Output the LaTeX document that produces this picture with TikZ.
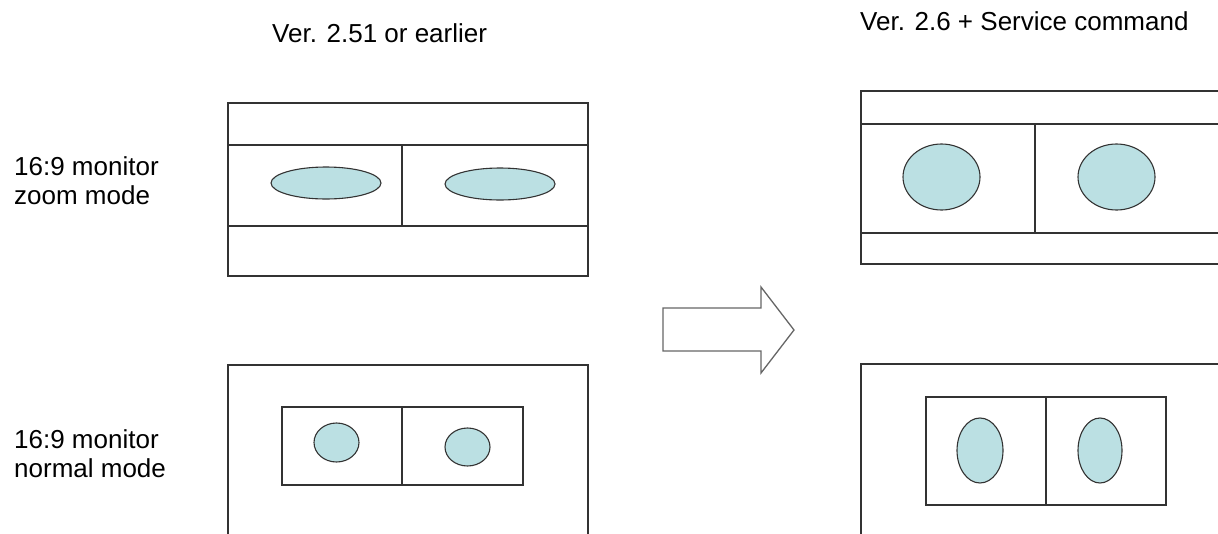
\documentclass[tikz,border=0pt]{standalone}
\usepackage{fontspec}
\setmainfont{Liberation Sans}
\begin{document}
\begin{tikzpicture}[x=1pt,y=-1pt,
  frame/.style={draw=black!80,line width=1.3pt},
  blob/.style={draw=black!80,line width=1.1pt,fill=screen},
  lbl/.style={font=\fontsize{26}{29}\selectfont,inner sep=0pt,text=black},
  bigarrow/.style={draw=black!60,line width=1.3pt,fill=white,line join=miter}]
\definecolor{screen}{RGB}{187,224,227}
\useasboundingbox (0,0) rectangle (1218,533);
\clip (0,0) rectangle (1218,533);
% titles
\node[lbl,anchor=base west] (t1) at (272,42) {Ver. 2.51 or earlier};
\node[lbl,anchor=base west] (t2) at (860,30) {Ver. 2.6 + Service command};
% row labels
\node[lbl,anchor=base west] (l1a) at (14,175) {16:9 monitor};
\node[lbl,anchor=base west] (l1b) at (14,204) {zoom mode};
\node[lbl,anchor=base west] (l2a) at (14,448) {16:9 monitor};
\node[lbl,anchor=base west] (l2b) at (14,477) {normal mode};
% top left: zoom mode, old
\draw[frame] (228,103) rectangle (588,276);
\draw[frame] (228,145) -- (588,145);
\draw[frame] (228,226) -- (588,226);
\draw[frame] (402,145) -- (402,226);
\draw[blob] (326,183) ellipse [x radius=55,y radius=16];
\draw[blob] (500,184) ellipse [x radius=55,y radius=16];
% bottom left: normal mode, old
\draw[frame] (228,365) rectangle (588,560);
\draw[frame] (282,407) rectangle (523,485);
\draw[frame] (402,407) -- (402,485);
\draw[blob] (336.5,442.5) ellipse [x radius=22.5,y radius=19.5];
\draw[blob] (467.5,447) ellipse [x radius=22.5,y radius=19];
% top right: zoom mode, new
\draw[frame] (861,91) rectangle (1240,264);
\draw[frame] (861,124) -- (1240,124);
\draw[frame] (861,233) -- (1240,233);
\draw[frame] (1035,124) -- (1035,233);
\draw[blob] (941.5,177) ellipse [x radius=38.5,y radius=33];
\draw[blob] (1116.5,177) ellipse [x radius=38.5,y radius=33];
% bottom right: normal mode, new
\draw[frame] (861,364) rectangle (1240,560);
\draw[frame] (926,397) rectangle (1166,505);
\draw[frame] (1046,397) -- (1046,505);
\draw[blob] (980,450.5) ellipse [x radius=23,y radius=32.5];
\draw[blob] (1100,450.5) ellipse [x radius=22,y radius=32.5];
% block arrow
\draw[bigarrow] (663,308) -- (761,308) -- (761,287) -- (794,330) -- (761,373) -- (761,351) -- (663,351) -- cycle;
\end{tikzpicture}
\end{document}
